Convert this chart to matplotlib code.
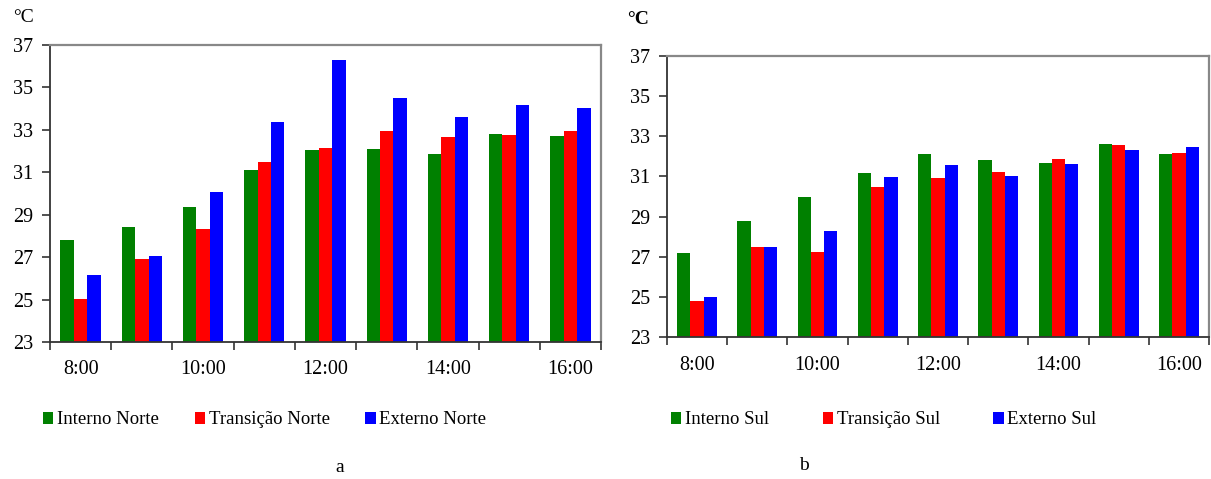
import numpy as np
import matplotlib
matplotlib.use('Agg')
import matplotlib.pyplot as plt
from matplotlib.patches import Patch

plt.rcParams['font.family'] = ['Liberation Serif', 'DejaVu Serif']

hours = ['8:00', '9:00', '10:00', '11:00', '12:00', '13:00', '14:00', '15:00', '16:00']

# panel a (Norte)
interno_norte = [27.8, 28.4, 29.35, 31.1, 32.05, 32.1, 31.85, 32.8, 32.7]
transicao_norte = [25.05, 26.9, 28.35, 31.5, 32.15, 32.95, 32.65, 32.75, 32.95]
externo_norte = [26.15, 27.05, 30.05, 33.35, 36.3, 34.5, 33.6, 34.15, 34.05]

# panel b (Sul)
interno_sul = [27.2, 28.8, 30.0, 31.15, 32.1, 31.8, 31.65, 32.6, 32.1]
transicao_sul = [24.8, 27.5, 27.25, 30.45, 30.9, 31.2, 31.85, 32.55, 32.15]
externo_sul = [25.0, 27.5, 28.3, 30.95, 31.55, 31.0, 31.6, 32.3, 32.45]

COLORS = ['#008000', '#ff0000', '#0000ff']
W, H = 1211, 479


def draw_panel(ax, series, labels, unit_bold, unit_xy, xpad, leg_x, colsp, letter_xy, letter):
    x = np.arange(len(hours))
    w = 0.22
    for k, (vals, col) in enumerate(zip(series, COLORS)):
        ax.bar(x + (k - 1) * w, np.array(vals) - 23, bottom=23, width=w,
               color=col, edgecolor='none')
    ax.set_xlim(-0.5, len(hours) - 0.5)
    ax.set_ylim(23, 37)
    ax.set_yticks(np.arange(23, 38, 2))
    ax.set_xticks(np.arange(-0.5, len(hours), 1.0))
    ax.set_xticklabels([])
    ax.set_xticks(x[::2], minor=True)
    ax.set_xticklabels(hours[::2], minor=True)
    ax.tick_params(axis='x', which='major', direction='out', length=6, width=1.2,
                   color='#333333')
    ax.tick_params(axis='x', which='minor', length=0, pad=xpad, labelsize=14.5)
    ax.tick_params(axis='y', direction='out', length=6, width=1.2, pad=6,
                   labelsize=14.5, color='#333333')
    for s in ['top', 'right']:
        ax.spines[s].set_color('#888888')
        ax.spines[s].set_linewidth(1.6)
    for s in ['left', 'bottom']:
        ax.spines[s].set_color('#333333')
        ax.spines[s].set_linewidth(1.3)
    fig.text(unit_xy[0] / W, 1 - unit_xy[1] / H, '°C', fontsize=14,
             fontweight='bold' if unit_bold else 'normal', ha='left', va='center')
    handles = [Patch(facecolor=c, edgecolor='none') for c in COLORS]
    fig.legend(handles, labels, loc='center left',
               bbox_to_anchor=(leg_x / W, 1 - 420 / H), ncol=3, frameon=False,
               fontsize=13.5, handlelength=0.55, handleheight=0.55,
               handletextpad=0.2, columnspacing=colsp, borderpad=0,
               borderaxespad=0)
    fig.text(letter_xy[0] / W, 1 - letter_xy[1] / H, letter, fontsize=14,
             ha='center', va='center')


fig = plt.figure(figsize=(12.11, 4.79), dpi=100)
ax_a = fig.add_axes([50 / W, 1 - 342 / H, 551 / W, 297 / H])
ax_b = fig.add_axes([667 / W, 1 - 337 / H, 542 / W, 281 / H])

draw_panel(ax_a, [interno_norte, transicao_norte, externo_norte],
           ['Interno Norte', 'Transição Norte', 'Externo Norte'],
           False, (13, 17), 13, 43, 1.9, (340, 468), 'a')
draw_panel(ax_b, [interno_sul, transicao_sul, externo_sul],
           ['Interno Sul', 'Transição Sul', 'Externo Sul'],
           True, (627, 20), 14, 671, 2.85, (804, 466), 'b')

fig.savefig('out.png', dpi=100)
